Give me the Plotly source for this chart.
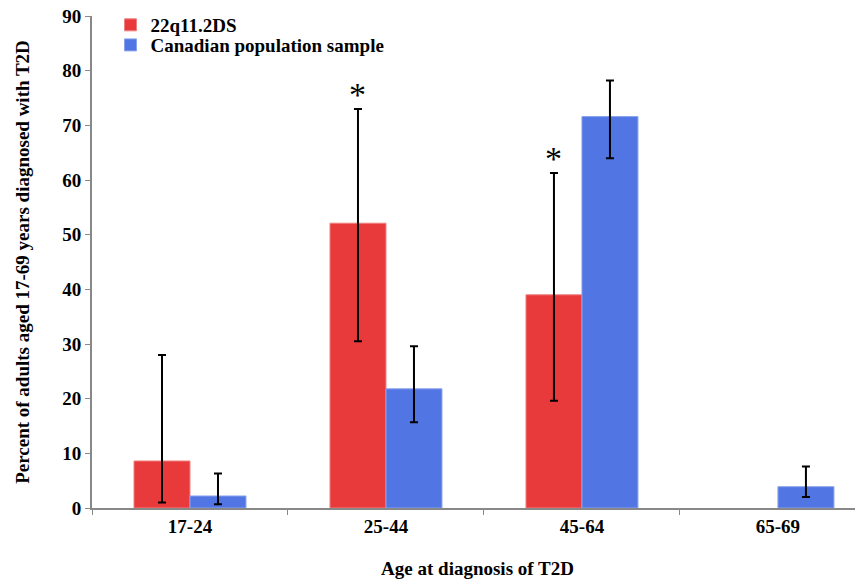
import plotly.graph_objects as go

categories = ["17-24", "25-44", "45-64", "65-69"]
series_names = ["22q11.2DS", "Canadian population sample"]

del_vals = [8.6, 52.1, 39.0, 0]
del_lo = [1.0, 30.5, 19.6, None]
del_hi = [28.0, 73.0, 61.3, None]

pop_vals = [2.2, 21.8, 71.6, 3.9]
pop_lo = [0.7, 15.7, 64.0, 2.0]
pop_hi = [6.3, 29.6, 78.2, 7.6]

signif = ["25-44", "45-64"]

y_ticks = [0, 10, 20, 30, 40, 50, 60, 70, 80, 90]

RED = "#E8393B"
BLUE = "#5176E3"
FONT = "Liberation Serif"

def plus(vals, hi):
    return [None if h is None else h - v for v, h in zip(vals, hi)]

def minus(vals, lo):
    return [None if l is None else v - l for v, l in zip(vals, lo)]

def shown(vals):
    return [v if v else None for v in vals]

bargap = 0.4286

fig = go.Figure()
fig.add_trace(go.Bar(
    x=categories, y=shown(del_vals), name=series_names[0],
    marker=dict(color=RED, line=dict(color="#F08080", width=1)),
    error_y=dict(type="data", symmetric=False, array=plus(del_vals, del_hi),
                 arrayminus=minus(del_vals, del_lo), color="black",
                 thickness=2, width=4),
    legend="legend",
))
fig.add_trace(go.Bar(
    x=categories, y=shown(pop_vals), name=series_names[1],
    marker=dict(color=BLUE, line=dict(color="#8AA2EC", width=1)),
    error_y=dict(type="data", symmetric=False, array=plus(pop_vals, pop_hi),
                 arrayminus=minus(pop_vals, pop_lo), color="black",
                 thickness=2, width=4),
    legend="legend2",
))

offset = (1 - bargap) / 4
for c in signif:
    i = categories.index(c)
    fig.add_annotation(
        x=i - offset, y=del_hi[i], xref="x", yref="y",
        text="*", showarrow=False, yanchor="bottom", yshift=-6,
        font=dict(family=FONT, size=34, color="black"),
    )

fig.update_layout(
    width=855, height=571,
    margin=dict(l=84, r=0, t=8, b=71, autoexpand=False),
    paper_bgcolor="white", plot_bgcolor="white",
    barmode="group", bargap=bargap, bargroupgap=0,
    font=dict(family=FONT, size=18, color="black"),
    legend=dict(x=0.024, y=0.9817, xanchor="left", yanchor="middle",
                font=dict(family=FONT, size=19, color="black", weight="bold"),
                bgcolor="rgba(0,0,0,0)", itemwidth=30),
    legend2=dict(x=0.024, y=0.941, xanchor="left", yanchor="middle",
                 font=dict(family=FONT, size=19, color="black", weight="bold"),
                 bgcolor="rgba(0,0,0,0)", itemwidth=30),
    showlegend=True,
)
fig.update_xaxes(
    type="category", range=[-0.5, 3.434], automargin=False,
    showline=True, linecolor="#888888", linewidth=2,
    ticks="outside", tickson="boundaries", ticklen=5, tickcolor="#888888",
    tickfont=dict(family=FONT, size=19, color="black", weight="bold"),
    showgrid=False, zeroline=False,
    title=dict(text="Age at diagnosis of T2D", standoff=32,
               font=dict(family=FONT, size=19, color="black", weight="bold")),
)
fig.update_yaxes(
    range=[0, 90], tickvals=y_ticks, automargin=False,
    ticklabeloverflow="allow",
    showline=True, linecolor="#888888", linewidth=2,
    ticks="outside", ticklen=5, tickcolor="#888888",
    tickfont=dict(family=FONT, size=19, color="black", weight="bold"),
    showgrid=False, zeroline=False,
    title=dict(text="Percent of adults aged 17-69 years diagnosed with T2D", standoff=28,
               font=dict(family=FONT, size=19, color="black", weight="bold")),
)

fig.write_html("out.html")
